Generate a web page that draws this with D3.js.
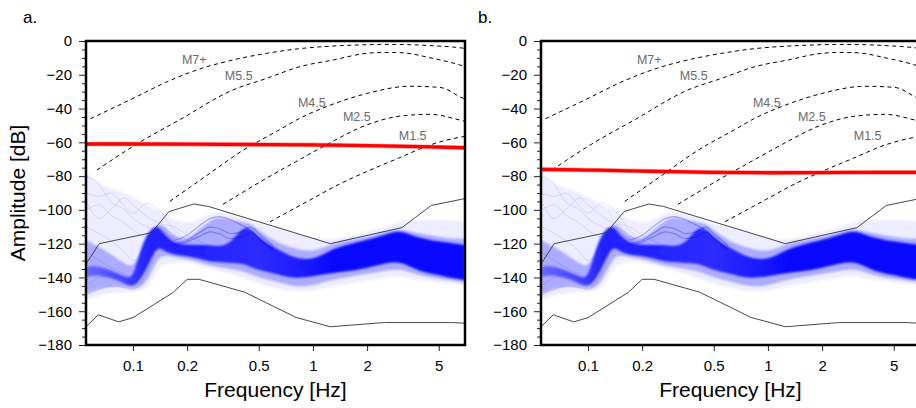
<!DOCTYPE html>
<html>
<head>
<meta charset="utf-8">
<script src="https://cdn.jsdelivr.net/npm/d3@7"></script>
<style>
  body { margin: 0; background: #fff; }
  svg { display: block; font-family: "Liberation Sans", Arial, Helvetica, sans-serif; }
</style>
</head>
<body>
<svg width="916" height="408"></svg>
<script>
// ---- data ----

// frequency grid for the noise traces [Hz]
const noiseFreqs = [0.055, 0.06, 0.07, 0.08, 0.09, 0.1, 0.11, 0.12, 0.13, 0.14, 0.15, 0.17, 0.2, 0.23, 0.27, 0.3,
  0.35, 0.4, 0.45, 0.5, 0.6, 0.7, 0.8, 1.0, 1.2, 1.5, 2, 2.5, 3, 3.5, 4, 5, 6, 7];
// faint outer envelope of all traces
const outerHi = [-78, -82, -86, -88, -90, -92, -95, -97, -99, -100, -103, -106, -108, -106, -102, -101,
  -102, -104, -106, -108, -110, -112, -114, -116, -118, -116, -113, -110, -107, -106, -106, -106, -106, -107];
const outerLo = [-153, -152, -150, -149, -149, -148.5, -148, -146, -140, -134, -132, -131, -131, -133, -135, -136,
  -138, -140, -142, -144, -146, -147.5, -148.5, -148, -146, -144, -142, -140, -139, -141, -142, -143, -144, -145];
// medium density band
const midHi = [-118, -120, -124, -128, -132, -134, -125, -117, -111, -108, -110, -116, -118, -112, -106, -104,
  -106, -107, -108, -112, -118, -121, -123, -125, -121, -118, -116, -113, -111, -113, -114, -116, -117, -117];
const midLo = [-150, -148, -146, -145, -146, -147, -146, -142, -134, -128, -127, -128, -129, -131, -133, -134,
  -135, -136, -138, -140, -142, -144, -145.5, -145, -142, -140, -138, -136, -135, -137, -139, -141, -142, -143];
// dense core
const coreHi = [-134, -133, -134.5, -137, -139.5, -141, -123, -114, -110, -110, -114.9, -119.8, -120.8, -120.8, -120.8, -121.8,
  -119.8, -110.5, -111, -116, -121.8, -125.7, -128.7, -129.7, -124.7, -120.8, -117.8, -114.9, -111.9, -114.9, -116.8, -118.8, -119.8, -120.8];
const coreLo = [-140, -138.5, -139.5, -141, -144, -145.5, -141.5, -133.6, -125.7, -121.8, -124.7, -126.7, -127.3, -128.7, -130.7, -130.7,
  -131.6, -131.6, -133.6, -135.6, -137.6, -139.5, -140.5, -139.5, -137.6, -136.6, -134.6, -131.6, -130.7, -133.6, -136.6, -138.5, -140.5, -141.5];
// how dense the core looks along frequency (0..1)
const coreDensityFreqs = [0.055, 0.09, 0.12, 0.2, 0.5, 0.9, 1.3, 7];
const coreDensity = [0.4, 0.6, 0.8, 0.8, 0.75, 0.85, 0.95, 0.95];

// individual traces that stand out of the cloud
const faintFreqs = [0.055, 0.065, 0.075, 0.09, 0.1, 0.12, 0.14, 0.17, 0.2, 0.25];
const faintTraces = [
  [-80, -85, -95, -100, -105, -110, -112, -118, -121, -122],
  [-90, -92, -90, -98, -102, -96, -100, -112, -118, -122],
  [-100, -97, -103, -108, -112, -116, -110, -115, -120, -123],
  [-110, -114, -118, -125, -130, -120, -112, -117, -121, -124],
  [-125, -130, -134, -138, -140, -128, -114, -120, -122, -125],
  [-145, -140, -138, -141, -143, -132, -116, -121, -124, -126],
  [-150, -147, -145, -146, -147, -137, -120, -123, -125, -127],
  [-95, -105, -100, -93, -97, -104, -108, -110, -115, -120]
];
const archFreqs = [0.17, 0.2, 0.23, 0.27, 0.3, 0.35, 0.4, 0.45, 0.5, 0.6];
const archTraces = [
  [-118, -115, -110, -105, -104, -106, -109, -112, -117, -123],
  [-120, -118, -114, -110, -111, -114, -113, -110, -114, -121],
  [-121, -119, -116, -113, -114, -117, -116, -113, -117, -124]
];

// high / low noise model vertices
const nhnmFreqs = [0.0548, 0.0649, 0.1266, 0.1587, 0.2174, 0.2632, 1.25, 3.125, 4.545, 7];
const nhnmDb = [-132.0, -120.0, -113.5, -101.0, -96.5, -98.0, -120.0, -110.5, -97.4, -93.3];
const nlnmFreqs = [0.0548, 0.0641, 0.0833, 0.1, 0.1667, 0.2, 0.2326, 0.4167, 0.8065, 1.25, 2.5, 5.88, 7];
const nlnmDb = [-169.2, -162.1, -166.3, -163.8, -149.0, -141.1, -141.1, -148.7, -163.7, -169.2, -166.7, -166.7, -167.1];

// earthquake spectra (dashed)
const quakeNames = ["M7+", "M5.5", "M4.5", "M2.5", "M1.5"];
const quakeFreqs = [
  [0.058, 0.1, 0.152, 0.236, 0.35, 0.553, 0.85, 1.29, 2.0, 2.45, 3.5, 4.64, 6.56, 7],
  [0.063, 0.105, 0.182, 0.359, 0.55, 0.847, 1.3, 1.99, 2.5, 3.04, 4.64, 6.56, 7],
  [0.16, 0.236, 0.464, 0.5, 0.65, 0.847, 1.2, 1.99, 3.46, 5.08, 6.56, 7],
  [0.316, 0.4, 0.53, 0.8, 1.21, 1.99, 3.04, 4.47, 6.56, 7],
  [0.577, 0.8, 1.0, 1.4, 2.0, 3.0, 4.47, 6.56, 7]
];
const quakeDb = [
  [-46, -34, -24.5, -16.5, -11.5, -7.3, -4.5, -3, -2.2, -2, -2.2, -2.8, -4, -4.4],
  [-76.4, -61, -46.6, -29, -22.2, -15.2, -11.2, -7.3, -6.8, -6.9, -10.3, -14.2, -15.2],
  [-95, -82.4, -61.2, -59.3, -52.6, -45.7, -38.7, -31.1, -26.8, -27.5, -33, -34.5],
  [-96.7, -90.1, -82.3, -71.6, -61, -49.7, -44.5, -43.4, -46.8, -47.5],
  [-107, -98.8, -93.2, -84.8, -77.2, -69.3, -61.6, -57, -56.5]
];
// label anchor (start of text, baseline)
const labelFreqs = [0.187, 0.324, 0.825, 1.468, 3.0];
const labelDb = [-13.6, -23.1, -39.1, -47.4, -58.6];

// instrument self-noise (red) for each panel
const redFreqs = [0.0548, 0.1, 0.2, 0.3, 0.5, 1, 2, 4, 7];
const redA = [-61, -61, -61.1, -61.2, -61.3, -61.5, -62, -62.6, -63.2];
const redB = [-76, -76.4, -77, -77.4, -77.8, -78, -77.9, -77.8, -77.8];

const xTicks = [0.1, 0.2, 0.5, 1, 2, 5];
const yTicks = d3.range(-180, 1, 20);
const yMinor = d3.range(-180, 1, 5).filter(v => v % 20 !== 0);

// ---- layout ----
const svg = d3.select("svg");
const plotTop = 41, plotH = 304, plotW = 379;
const panels = [
  { left: 86, tag: "a.", red: redA, ylab: true },
  { left: 541, tag: "b.", red: redB, ylab: false }
];

const x = d3.scaleLog().domain([0.0548, 7]).range([0, plotW]);
const y = d3.scaleLinear().domain([-180, 0]).range([plotH, 0]);

const zip = (fs, vs) => fs.map((f, i) => [f, vs[i]]);
const line = d3.line().x(d => x(d[0])).y(d => y(d[1]));
const curved = d3.line().x(d => x(d[0])).y(d => y(d[1])).curve(d3.curveMonotoneX);
const band = (hi, lo) => d3.area()
  .x((d, i) => x(noiseFreqs[i]))
  .y0((d, i) => y(lo[i]))
  .y1((d, i) => y(hi[i]))
  .curve(d3.curveBasis)(noiseFreqs);

const defs = svg.append("defs");
defs.append("clipPath").attr("id", "plotclip")
  .append("rect").attr("width", plotW).attr("height", plotH);
defs.append("filter").attr("id", "soft")
  .append("feGaussianBlur").attr("stdDeviation", 1.1);
defs.append("linearGradient").attr("id", "coreFill")
  .attr("gradientUnits", "userSpaceOnUse").attr("x1", 0).attr("x2", plotW).attr("y1", 0).attr("y2", 0)
  .selectAll("stop").data(coreDensityFreqs).join("stop")
  .attr("offset", f => x(f) / plotW)
  .attr("stop-color", "#0000ff")
  .attr("stop-opacity", (f, i) => coreDensity[i]);

panels.forEach(p => {
  const g = svg.append("g").attr("transform", `translate(${p.left},${plotTop})`);
  const plot = g.append("g").attr("clip-path", "url(#plotclip)");

  // noise traces
  const blue = plot.append("g").attr("filter", "url(#soft)");
  blue.append("path").attr("d", band(outerHi, outerLo)).attr("fill", "#0000ff").attr("fill-opacity", 0.07);
  blue.append("path").attr("d", band(midHi, midLo)).attr("fill", "#0000ff").attr("fill-opacity", 0.28);
  blue.append("path").attr("d", band(coreHi, coreLo)).attr("fill", "url(#coreFill)");
  plot.append("g").selectAll("path").data(faintTraces).join("path")
    .attr("d", t => curved(zip(faintFreqs, t)))
    .attr("fill", "none").attr("stroke", "#0000ff").attr("stroke-opacity", 0.16).attr("stroke-width", 0.7);
  plot.append("g").selectAll("path").data(archTraces).join("path")
    .attr("d", t => curved(zip(archFreqs, t)))
    .attr("fill", "none").attr("stroke", "#0000ff").attr("stroke-opacity", 0.3).attr("stroke-width", 1.2);

  // noise models
  plot.append("path").attr("d", line(zip(nhnmFreqs, nhnmDb)))
    .attr("fill", "none").attr("stroke", "#333").attr("stroke-width", 0.9);
  plot.append("path").attr("d", line(zip(nlnmFreqs, nlnmDb)))
    .attr("fill", "none").attr("stroke", "#333").attr("stroke-width", 0.9);

  // quake spectra
  plot.append("g").selectAll("path").data(quakeNames).join("path")
    .attr("d", (n, i) => curved(zip(quakeFreqs[i], quakeDb[i])))
    .attr("fill", "none").attr("stroke", "#000").attr("stroke-width", 1)
    .attr("stroke-dasharray", "4,3.5");
  g.append("g").selectAll("text").data(quakeNames).join("text")
    .attr("x", (n, i) => x(labelFreqs[i]))
    .attr("y", (n, i) => y(labelDb[i]))
    .attr("font-size", 12.5).attr("fill", "#6b6b6b")
    .text(n => n);

  // self noise
  plot.append("path").attr("d", curved(zip(redFreqs, p.red)))
    .attr("fill", "none").attr("stroke", "#ff0000").attr("stroke-width", 4.6).attr("stroke-opacity", 0.35);
  plot.append("path").attr("d", curved(zip(redFreqs, p.red)))
    .attr("fill", "none").attr("stroke", "#ff0000").attr("stroke-width", 3.3);

  // axes
  const xa = g.append("g").attr("transform", `translate(0,${plotH})`)
    .call(d3.axisBottom(x).tickValues(xTicks).tickFormat(d3.format("")).tickSize(6).tickPadding(9));
  const ya = g.append("g")
    .call(d3.axisLeft(y).tickValues(yTicks).tickSize(7).tickPadding(7));
  const ym = g.append("g")
    .call(d3.axisLeft(y).tickValues(yMinor).tickSize(4).tickFormat(""));
  [xa, ya, ym].forEach(a => {
    a.select(".domain").remove();
    a.selectAll("line").attr("stroke", "#222");
    a.selectAll("text").attr("font-size", 15).attr("fill", "#000")
      .attr("font-family", "\"Liberation Sans\", Arial, sans-serif");
  });

  // frame
  g.append("rect").attr("width", plotW).attr("height", plotH)
    .attr("fill", "none").attr("stroke", "#000").attr("stroke-width", 2.5);

  // titles
  g.append("text").attr("x", plotW / 2).attr("y", 356)
    .attr("text-anchor", "middle").attr("font-size", 21).text("Frequency [Hz]");
  if (p.ylab) {
    g.append("text").attr("transform", `translate(${25 - p.left},${plotH / 2}) rotate(-90)`)
      .attr("text-anchor", "middle").attr("font-size", 21).text("Amplitude [dB]");
  }
  svg.append("text").attr("x", p.left - 63).attr("y", 23)
    .attr("font-size", 17).text(p.tag);
});
</script>
</body>
</html>
